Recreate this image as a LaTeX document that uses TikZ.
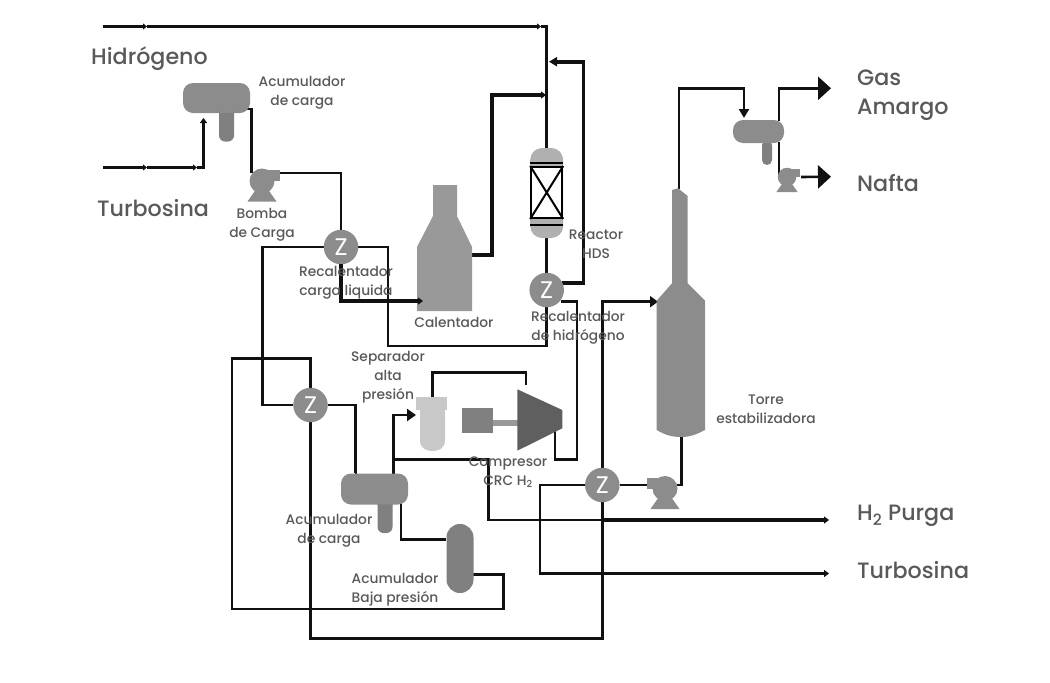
\documentclass[tikz,border=0pt]{standalone}
\usepackage{fontspec}
\setmainfont{Poppins Medium}
\newfontfamily\zfont{Poppins}
\usetikzlibrary{arrows.meta,backgrounds,calc}
\definecolor{txt}{HTML}{595959}
\definecolor{eqA}{HTML}{8C8C8C}
\definecolor{eqB}{HTML}{808080}
\definecolor{eqC}{HTML}{999999}
\definecolor{eqD}{HTML}{B0B0B0}
\definecolor{eqE}{HTML}{C8C8C8}
\definecolor{eqF}{HTML}{5F5F5F}
\definecolor{pipeK}{HTML}{111111}
\tikzset{
  x=1pt,y=-1pt,
  pipe/.style={draw=pipeK,line width=2.6pt,line join=miter},
  fat/.style={draw=pipeK,line width=3.6pt,line join=miter},
  tip/.style={-{Triangle[length=4pt,width=6pt]}},
  bigtip/.style={-{Triangle[length=9pt,width=12pt]}},
  hx/.style={circle,fill=eqA,minimum size=34.5pt,inner sep=0pt,text=white,font=\zfont\fontsize{24}{24}\selectfont},
  drum/.style={fill=eqA,rounded corners=10pt,inner sep=0pt},
  boot/.style={fill=eqB,rounded corners=6pt,inner sep=0pt},
  lab/.style={text=txt,align=center,font=\fontsize{13.8}{19}\selectfont,inner sep=0pt},
  big/.style={text=txt,anchor=west,font=\fontsize{22.2}{29}\selectfont,inner sep=0pt},
  bombaG/.pic={
    \fill[eqA] (0,0) circle (12.5);
    \fill[eqA] (0,-11) rectangle (18,0);
    \fill[eqA] (-14.5,20.5) -- (14.5,20.5) -- (5,7) -- (-5,7) -- cycle;
  }
}
\begin{document}
\begin{tikzpicture}
\useasboundingbox (0,0) rectangle (1050,683);

% ---------- equipment ----------
\node[boot,minimum width=15pt,minimum height=36pt] (boot1) at (226.5,123.5) {};
\node[drum,minimum width=67pt,minimum height=30pt] (drum1) at (216.5,98) {};
\fill[eqB] (219,113) -- (219,109) arc[start angle=180,end angle=0,radius=7.5] -- (234,113) -- cycle;
\pic at (262,181) {bombaG};
\coordinate (p1in) at (251.5,173);
\coordinate (p1out) at (279,173);

\fill[eqC] (433,185) -- (457,185) -- (457,216) -- (472,247) -- (472,311) -- (417,311) -- (417,247) -- (433,216) -- cycle;
\coordinate (calIn) at (423,301);
\coordinate (calOut) at (472,255);

\node[fill=eqD,rounded corners=12pt,minimum width=33pt,minimum height=90pt,inner sep=0pt] (reactor) at (546.7,193) {};
\node[fill=white,draw=black,line width=2pt,minimum width=31pt,minimum height=51pt,inner sep=0pt] (bed) at (546.7,192.5) {};
\draw[black,line width=2pt] (bed.north west) -- (bed.south east) (bed.north east) -- (bed.south west);
\draw[black,line width=2pt] (530,163) -- (563,163) (530,225) -- (563,225);

\node[hx] (z1) at (341,247) {Z};
\node[hx] (z2) at (310.5,405) {Z};
\node[hx] (z3) at (546.7,290) {Z};
\node[hx] (z4) at (602.3,485) {Z};

\fill[eqE] (416,397) rectangle (447,410);
\fill[eqE] (420,410) -- (445,410) -- (445,440) .. controls (445,449) and (438,451) .. (432.5,451) .. controls (427,451) and (420,449) .. (420,440) -- cycle;
\coordinate (sepTop) at (432.7,397);
\coordinate (sepIn) at (416,415);

\node[fill=eqB,minimum width=31pt,minimum height=25pt,inner sep=0pt] (motor) at (477.5,420.5) {};
\fill[eqC] (493,420) rectangle (518,426);
\fill[eqF] (517.3,389.3) -- (562.3,410) -- (562.3,428.3) -- (517.3,450.7) -- cycle;
\coordinate (compIn) at (526,385);
\coordinate (compOut) at (555,431);

\node[boot,minimum width=15pt,minimum height=36pt] (boot2) at (385,515) {};
\node[drum,minimum width=67pt,minimum height=31pt] (drum2) at (374.5,489) {};
\fill[eqB] (377.5,504.5) -- (377.5,504) arc[start angle=180,end angle=0,radius=7.5] -- (392.5,504.5) -- cycle;
\node[fill=eqB,rounded corners=13.4pt,minimum width=27pt,minimum height=69pt,inner sep=0pt] (lowp) at (460,558.5) {};

\fill[eqA] (672,190) -- (678,188.3) -- (687.7,196) -- (687.7,283.3) -- (705,300.7) -- (705,430) .. controls (695,435) and (690,437) .. (681,437) .. controls (672,437) and (665,435) .. (656.7,430) -- (656.7,300.7) -- (672,283.3) -- cycle;
\coordinate (towerTop) at (679,189);
\coordinate (towerIn) at (658,301.7);
\coordinate (towerOut) at (681.7,436);

\pic[xscale=-1] at (665,488.5) {bombaG};
\coordinate (p2out) at (648,485);
\coordinate (p2in) at (677,485);

\node[boot,minimum width=10pt,minimum height=25pt,rounded corners=5pt] (boot3) at (767,152.5) {};
\node[drum,minimum width=51pt,minimum height=23pt] (drum3) at (758.5,131.5) {};
\pic[scale=0.74] at (787,177) {bombaG};
\coordinate (p3in) at (779,177);
\coordinate (p3out) at (801,177);

% ---------- free ends and tees ----------
\coordinate (h0) at (103,26.5);
\coordinate (h1) at (147,26.5);
\coordinate (h2) at (541,26.5);
\coordinate (t0) at (103,167.5);
\coordinate (t1) at (147,167.5);
\coordinate (t2) at (197,167.5);
\coordinate (t3) at (203.5,118);
\coordinate (d1out) at (246,109);
\coordinate (d2top) at (355.3,473);
\coordinate (d2gas) at (393.3,474);
\coordinate (d2liq) at (401,503);
\coordinate (tee) at (393.3,459.3);
\coordinate (purga) at (829,520);
\coordinate (purgaT) at (602.3,520);
\coordinate (turbo) at (829,573.5);
\coordinate (turboT) at (602.3,573.5);
\coordinate (gas) at (831,88.3);
\coordinate (nafta) at (831,176.7);
\coordinate (rxIn) at (546,95);
\coordinate (rxIn2) at (549,61.7);
\coordinate (lowpOut) at (473,574.3);

% ---------- pipes ----------
\begin{scope}[on background layer]
\fill[white] (0,0) rectangle (1050,683);
% hydrogen
\draw[fat,tip] (h0) -- (h1);
\draw[fat,tip] (h1) -- (h2);
\draw[pipe] (h2) -- ++(5.7,0) -- (reactor.north);
% turbosina
\draw[fat,tip] (t0) -- (t1);
\draw[fat,tip] (t1) -- (t2);
\draw[fat,-{Triangle[length=5pt,width=7pt]}] (t2) -- ++(6.5,0) -- (t3);
% feed
\draw[pipe] (d1out) -- ++(5.5,0) |- (p1in);
\draw[pipe] (p1out) -| (z1.north);
\draw[pipe] (z1.west) -- ++(-61.3,0) |- (z2.west);
\draw[pipe] (z1.east) -- ++(29.5,0) |- ($(z3.south)+(0,38.5)$) -- (z3.south);
\draw[fat,-{Triangle[length=5pt,width=7pt]}] (calOut) -- ++(20,0) |- (rxIn);
\draw[pipe] (reactor.south) -- (z3.north);
\draw[fat,-{Triangle[length=8pt,width=9pt]}] ($(z3.east)+(-2,-7)$) -- ++(21.5,0) |- (rxIn2);
\draw[pipe] ($(z3.east)+(-3,11.7)$) -- ++(16,0) |- ($(compOut)+(0,28.3)$) -- (compOut);
\draw[pipe] (sepTop) |- ($(compIn)+(0,-12.7)$) -- (compIn);
% separator and purge
\draw[pipe,bigtip] (d2gas) |- (sepIn);
\draw[pipe] (tee) -- ++(95,0) |- (purgaT);
\draw[fat,-{Triangle[length=5pt,width=7pt]}] (purgaT) -- (purga);
% exchanger 2 and low pressure drum
\draw[pipe] (z2.east) -- ++(27.8,0) |- (d2top);
\draw[pipe] (z2.north) -- ++(0,-29) -| ++(-78.5,250.3) -- ++(271.3,0) |- (lowpOut);
\draw[pipe] (z2.south) |- ++(291.8,215.8) -- (z4.south);
\draw[pipe] (d2liq) |- (lowp.west |- 0,539.3);
% exchanger 4
\draw[pipe,-{Triangle[length=8pt,width=11pt]}] (z4.north) |- (towerIn);
\draw[pipe] (z4.west) -- ++(-45,0) |- (turboT);
\draw[pipe,-{Triangle[length=5pt,width=7pt]}] (turboT) -- (turbo);
\draw[pipe] (z4.east) -- (p2out);
\draw[pipe] (p2in) -| (towerOut);
% overhead
\draw[pipe,-{Triangle[length=9pt,width=10pt]}] (towerTop) |- (744,88.3) -- (744,118);
\draw[pipe,-{Triangle[length=13pt,width=23pt]}] (779,121) |- (gas);
\draw[pipe] (779,142) -- (p3in);
\draw[pipe,-{Triangle[length=13pt,width=23pt]}] (p3out) -- (nafta);
\end{scope}

\draw[fat,-{Triangle[length=5pt,width=7pt]}] (z1.south) |- (calIn);

% ---------- labels ----------
\node[big] (lHid) at (91,59) {Hidrógeno};
\node[big] (lTur) at (97,208) {Turbosina};
\node[big,align=left] (lGas) at (857,95.5) {Gas\\Amargo};
\node[big] (lNaf) at (857,183) {Nafta};
\node[big] (lPur) at (857,516) {H\textsubscript{2} Purga};
\node[big] (lTu2) at (857,570) {Turbosina};
\node[lab] (l1) at (302,93) {Acumulador\\de carga};
\node[lab] (l2) at (262,224.5) {Bomba\\de Carga};
\node[lab] (l3) at (346,282.5) {Recalentador\\carga liquida};
\node[lab] (l4) at (454,322) {Calentador};
\node[lab] (l5) at (596,244) {Reactor\\HDS};
\node[lab] (l6) at (578,328) {Recalentador\\de hidrógeno};
\node[lab] (l7) at (388,377.5) {Separador\\alta\\presión};
\node[lab] (l8) at (508,472) {Compresor\\CRC H\textsubscript{2}};
\node[lab] (l9) at (329,531) {Acumulador\\de carga};
\node[lab] (l10) at (395,590) {Acumulador\\Baja presión};
\node[lab] (l11) at (766,409) {Torre\\estabilizadora};
\end{tikzpicture}
\end{document}
